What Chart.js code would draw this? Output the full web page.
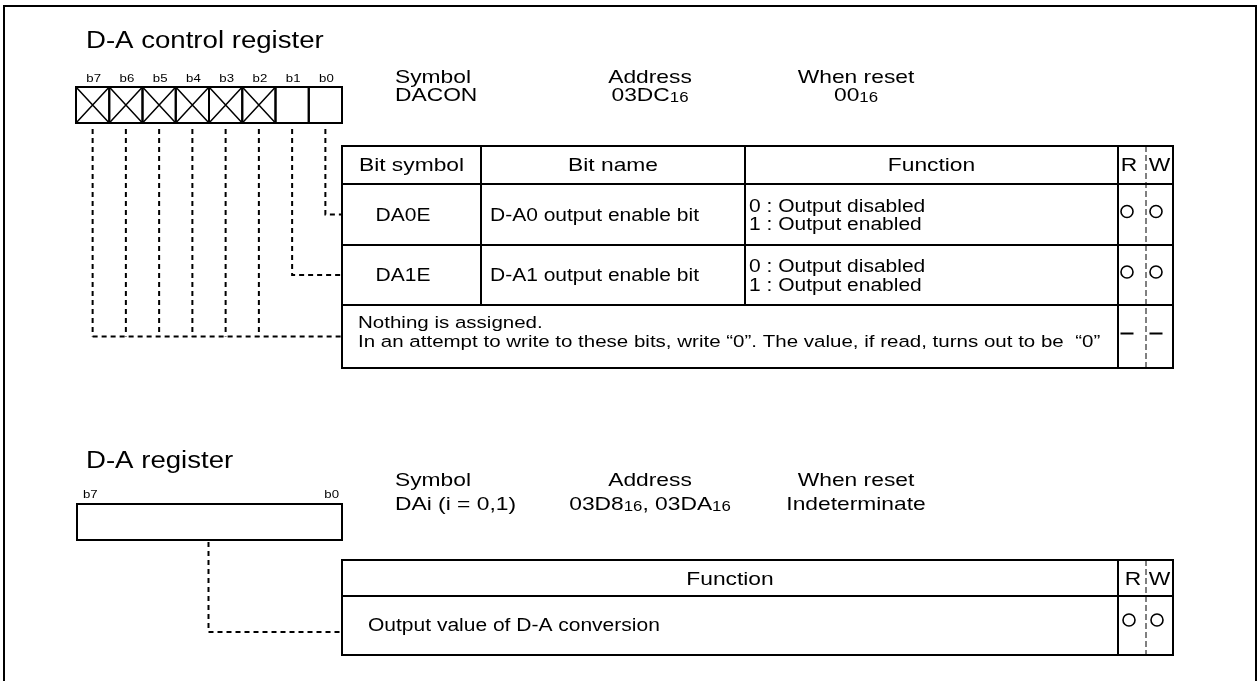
<!DOCTYPE html>
<html>
<head>
<meta charset="utf-8">
<title>D-A control register</title>
<script src="https://cdn.jsdelivr.net/npm/chart.js@4.4.1/dist/chart.umd.min.js"></script>
<style>
  html, body { margin: 0; padding: 0; background: #fff; }
  canvas { display: block; }
</style>
</head>
<body>
<canvas id="regChart" width="1257" height="681"></canvas>
<script>
// register content
const bitLabels = ["b7", "b6", "b5", "b4", "b3", "b2", "b1", "b0"];
const reservedBits = ["b7", "b6", "b5", "b4", "b3", "b2"];
const infoHeads = ["Symbol", "Address", "When reset"];
const daconInfo = [[["DACON", 0]], [["03DC", 0], ["16", 1]], [["00", 0], ["16", 1]]];
const daInfo = [[["DAi (i = 0,1)", 0]], [["03D8", 0], ["16", 1], [", ", 0], ["03DA", 0], ["16", 1]], [["Indeterminate", 0]]];
const headCols = ["Bit symbol", "Bit name", "Function", "R", "W"];
const bitSymbols = ["DA0E", "DA1E"];
const bitNames = ["D-A0 output enable bit", "D-A1 output enable bit"];
const bitFunctions = [["0 : Output disabled", "1 : Output enabled"], ["0 : Output disabled", "1 : Output enabled"]];
const noteLines = ["Nothing is assigned.", "In an attempt to write to these bits, write \u201c0\u201d. The value, if read, turns out to be  \u201c0\u201d"];
const rwTop = ["circle", "circle", "dash"];
const daFunction = "Output value of D-A conversion";
const rwBottom = ["circle"];

// layout
const SX = 1.2; // source drawing is stretched sideways
const FONT = "'Liberation Sans', Arial, Helvetica, sans-serif";
const ROW_FONT = 17.5;
const NOTE_FONT = 17.1;
const reg1 = { x: 76, y: 87, w: 266, h: 36 };
const reg2 = { x: 77, y: 504, w: 265, h: 36 };
const t1Cols = [342, 481, 745, 1118, 1146, 1173];
const t1Rows = [146, 184, 245, 305, 368];
const t2Cols = [342, 1118, 1146, 1173];
const t2Rows = [560, 596, 655];
const infoX = [395, 650, 856];

const cellW = reg1.w / bitLabels.length;
const bitX = (i) => reg1.x + (i + 0.5) * cellW;
const rowMid = (r) => (t1Rows[r + 1] + t1Rows[r + 2]) / 2;

const dashed = (points) => ({
    data: points,
    showLine: true,
    borderColor: "#000",
    borderWidth: 2,
    borderDash: [5, 4],
    pointRadius: 0,
    fill: false
});

const datasets = [];
const startY = reg1.y + reg1.h + 6;
bitLabels.forEach((bit, i) => {
    if (bit === "b0") datasets.push(dashed([{ x: bitX(i), y: startY }, { x: bitX(i), y: rowMid(0) }, { x: t1Cols[0], y: rowMid(0) }]));
    else if (bit === "b1") datasets.push(dashed([{ x: bitX(i), y: startY }, { x: bitX(i), y: rowMid(1) }, { x: t1Cols[0], y: rowMid(1) }]));
    else datasets.push(dashed([{ x: bitX(i), y: startY }, { x: bitX(i), y: rowMid(2) }]));
});
datasets.push(dashed([{ x: bitX(0), y: rowMid(2) }, { x: t1Cols[0], y: rowMid(2) }]));

const daX = reg2.x + reg2.w / 2 - 1;
datasets.push(dashed([{ x: daX, y: reg2.y + reg2.h + 2 }, { x: daX, y: 632 }, { x: t2Cols[0], y: 632 }]));

// R / W marks
const circlePts = [];
const dashPts = [];
rwTop.forEach((m, r) => {
    const y = rowMid(r) - 3;
    (m === "circle" ? circlePts : dashPts).push({ x: t1Cols[3] + 9, y }, { x: t1Cols[4] + 10, y });
});
rwBottom.forEach(() => circlePts.push({ x: t2Cols[1] + 11, y: 620 }, { x: t2Cols[2] + 11, y: 620 }));

datasets.push({
    data: circlePts, pointStyle: "circle", pointRadius: 6, borderWidth: 1.6,
    borderColor: "#000", backgroundColor: "rgba(0,0,0,0)", showLine: false
});
datasets.push({
    data: dashPts, pointStyle: "line", pointRadius: 6.5, borderWidth: 2,
    borderColor: "#000", showLine: false
});

function stretchText(ctx, str, x, y, size, align) {
    ctx.font = size + "px " + FONT;
    const w = ctx.measureText(str).width * SX;
    const left = align === "center" ? x - w / 2 : align === "right" ? x - w : x;
    ctx.save();
    ctx.translate(left, y);
    ctx.scale(SX, 1);
    ctx.textAlign = "left";
    ctx.textBaseline = "alphabetic";
    ctx.fillStyle = "#000";
    ctx.fillText(str, 0, 0);
    ctx.restore();
    return w;
}

function segText(ctx, segs, x, y, align) {
    let total = 0;
    segs.forEach(([t, sub]) => {
        ctx.font = (sub ? 14 : 19) + "px " + FONT;
        total += ctx.measureText(t).width * SX;
    });
    let cx = align === "center" ? x - total / 2 : x;
    segs.forEach(([t, sub]) => {
        cx += stretchText(ctx, t, cx, sub ? y + 1 : y, sub ? 14 : 19, "left");
    });
}

const diagramPlugin = {
    id: "diagram",
    beforeDatasetsDraw(chart) {
        const ctx = chart.ctx;
        const X = (v) => chart.scales.x.getPixelForValue(v);
        const Y = (v) => chart.scales.y.getPixelForValue(v);
        ctx.save();
        ctx.strokeStyle = "#000";
        ctx.lineWidth = 2;

        // outer frame
        ctx.strokeRect(X(4), Y(6), X(1256) - X(4), Y(700) - Y(6));

        // control register cells
        bitLabels.forEach((bit, i) => {
            const x0 = X(reg1.x + i * cellW), x1 = X(reg1.x + (i + 1) * cellW);
            const y0 = Y(reg1.y), y1 = Y(reg1.y + reg1.h);
            ctx.lineWidth = 2;
            ctx.strokeRect(x0, y0, x1 - x0, y1 - y0);
            if (reservedBits.includes(bit)) {
                ctx.lineWidth = 1.5;
                ctx.beginPath();
                ctx.moveTo(x0, y0); ctx.lineTo(x1, y1);
                ctx.moveTo(x1, y0); ctx.lineTo(x0, y1);
                ctx.stroke();
            }
        });

        // D-A register box
        ctx.lineWidth = 2;
        ctx.strokeRect(X(reg2.x), Y(reg2.y), X(reg2.x + reg2.w) - X(reg2.x), Y(reg2.y + reg2.h) - Y(reg2.y));

        // table 1
        const line = (xa, ya, xb, yb) => { ctx.beginPath(); ctx.moveTo(X(xa), Y(ya)); ctx.lineTo(X(xb), Y(yb)); ctx.stroke(); };
        ctx.lineWidth = 2;
        ctx.strokeRect(X(t1Cols[0]), Y(t1Rows[0]), X(t1Cols[5]) - X(t1Cols[0]), Y(t1Rows[4]) - Y(t1Rows[0]));
        [1, 2, 3].forEach((r) => line(t1Cols[0], t1Rows[r], t1Cols[5], t1Rows[r]));
        [1, 2].forEach((c) => line(t1Cols[c], t1Rows[0], t1Cols[c], t1Rows[3]));
        line(t1Cols[3], t1Rows[0], t1Cols[3], t1Rows[4]);

        // table 2
        ctx.strokeRect(X(t2Cols[0]), Y(t2Rows[0]), X(t2Cols[3]) - X(t2Cols[0]), Y(t2Rows[2]) - Y(t2Rows[0]));
        line(t2Cols[0], t2Rows[1], t2Cols[3], t2Rows[1]);
        line(t2Cols[1], t2Rows[0], t2Cols[1], t2Rows[2]);

        // R/W separators
        ctx.lineWidth = 1;
        ctx.setLineDash([6, 3]);
        line(t1Cols[4], t1Rows[0], t1Cols[4], t1Rows[4]);
        line(t2Cols[2], t2Rows[0], t2Cols[2], t2Rows[2]);
        ctx.setLineDash([]);
        ctx.restore();
    },
    afterDatasetsDraw(chart) {
        const ctx = chart.ctx;
        const X = (v) => chart.scales.x.getPixelForValue(v);
        const Y = (v) => chart.scales.y.getPixelForValue(v);
        ctx.save();

        // titles
        stretchText(ctx, "D-A control register", X(86), Y(48), 23, "left");
        stretchText(ctx, "D-A register", X(86), Y(468), 23, "left");

        // bit labels
        bitLabels.forEach((bit, i) => stretchText(ctx, bit, X(bitX(i) + 1), Y(82), 11, "center"));
        stretchText(ctx, bitLabels[0], X(83), Y(498), 11, "left");
        stretchText(ctx, bitLabels[7], X(339), Y(498), 11, "right");

        // symbol / address / reset blocks
        infoHeads.forEach((h, i) => {
            const align = i === 0 ? "left" : "center";
            stretchText(ctx, h, X(infoX[i]), Y(83), 19, align);
            segText(ctx, daconInfo[i], X(infoX[i]), Y(101), align);
            stretchText(ctx, h, X(infoX[i]), Y(486), 19, align);
            segText(ctx, daInfo[i], X(infoX[i]), Y(510), align);
        });

        // table 1 header
        headCols.forEach((h, c) => {
            const cx = (t1Cols[c] + t1Cols[c + 1]) / 2;
            stretchText(ctx, h, X(c === 3 ? cx - 3 : cx), Y(171), 19, "center");
        });

        // table 1 rows
        bitSymbols.forEach((s, r) => {
            const mid = rowMid(r);
            stretchText(ctx, s, X(403), Y(mid + 6), ROW_FONT, "center");
            stretchText(ctx, bitNames[r], X(490), Y(mid + 6), ROW_FONT, "left");
            bitFunctions[r].forEach((f, k) => stretchText(ctx, f, X(749), Y(mid - 3 + k * 18.5), ROW_FONT, "left"));
        });
        noteLines.forEach((n, k) => stretchText(ctx, n, X(358), Y(328 + k * 18.5), NOTE_FONT, "left"));

        // table 2
        stretchText(ctx, "Function", X((t2Cols[0] + t2Cols[1]) / 2), Y(585), 19, "center");
        stretchText(ctx, "R", X((t2Cols[1] + t2Cols[2]) / 2 + 1), Y(585), 19, "center");
        stretchText(ctx, "W", X((t2Cols[2] + t2Cols[3]) / 2), Y(585), 19, "center");
        stretchText(ctx, daFunction, X(368), Y(631), ROW_FONT, "left");
        ctx.restore();
    }
};

new Chart(document.getElementById("regChart"), {
    type: "scatter",
    data: { datasets },
    options: {
        responsive: false,
        animation: false,
        devicePixelRatio: 1,
        events: [],
        layout: { padding: 0, autoPadding: false },
        plugins: { legend: { display: false }, tooltip: { enabled: false } },
        scales: {
            x: { type: "linear", min: 0, max: 1257, display: false },
            y: { type: "linear", min: 0, max: 681, reverse: true, display: false }
        }
    },
    plugins: [diagramPlugin]
});
</script>
</body>
</html>
